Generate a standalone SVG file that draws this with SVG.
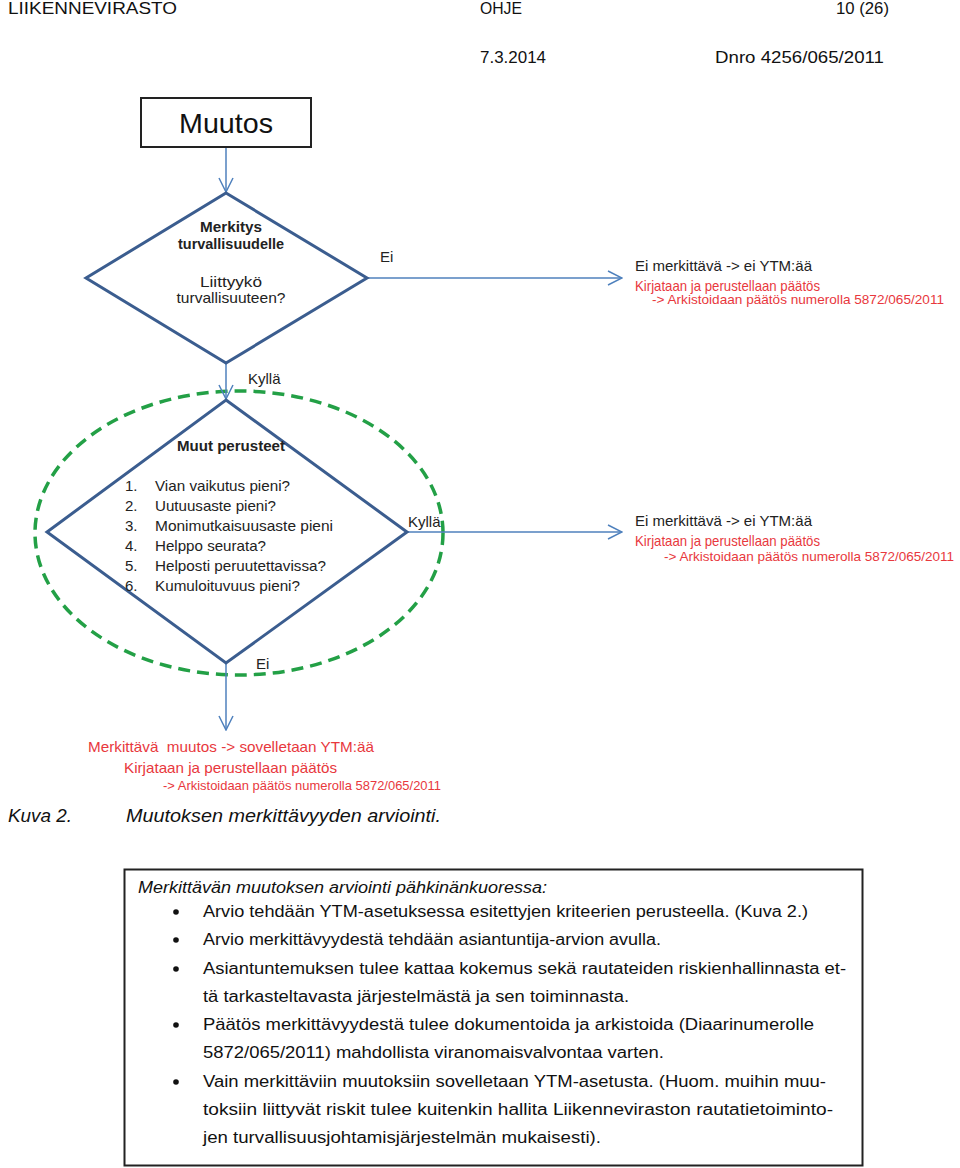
<svg xmlns="http://www.w3.org/2000/svg" width="960" height="1168" viewBox="0 0 960 1168">
<defs>
<marker id="arr" markerUnits="userSpaceOnUse" markerWidth="16" markerHeight="16" viewBox="0 0 16 16" refX="15" refY="8" orient="auto">
<path d="M1,1 L15,8 L1,15" fill="none" stroke="#4f81bd" stroke-width="1.5"/>
</marker>
<style>
.hdr{font-family:"Liberation Sans",Arial,sans-serif;font-size:17px;fill:#111}
.c{font-family:"Liberation Sans",Arial,sans-serif;font-size:15px;fill:#222}
.b{font-weight:bold}
.red{fill:#e8383d}
.sm{font-size:13px}
.body{font-family:"Liberation Sans",Arial,sans-serif;font-size:16px;fill:#111}
.cap{font-family:"Liberation Sans",Arial,sans-serif;font-size:18px;font-style:italic;fill:#111}
.conn{stroke:#4f81bd;stroke-width:1.5;fill:none}
.dia{stroke:#3b5d8f;stroke-width:3;fill:#fff;stroke-linejoin:miter}
</style>
</defs>
<rect width="960" height="1168" fill="#fff"/>
<g id="header">
<text class="hdr" x="8" y="14" textLength="169" lengthAdjust="spacingAndGlyphs">LIIKENNEVIRASTO</text>
<text class="hdr" x="480" y="14" textLength="42" lengthAdjust="spacingAndGlyphs">OHJE</text>
<text class="hdr" x="836" y="14" textLength="53" lengthAdjust="spacingAndGlyphs">10 (26)</text>
<text class="hdr" x="480" y="63" textLength="66" lengthAdjust="spacingAndGlyphs">7.3.2014</text>
<text class="hdr" x="715" y="63" textLength="169" lengthAdjust="spacingAndGlyphs">Dnro 4256/065/2011</text>
</g>
<g id="ellipse">
<ellipse cx="239" cy="533" rx="204" ry="142" fill="none" stroke="#23a046" stroke-width="3.5" stroke-dasharray="12,7"/>
</g>
<g id="connectors">
<line class="conn" x1="226" y1="147" x2="226" y2="192" marker-end="url(#arr)"/>
<line class="conn" x1="367" y1="278" x2="622" y2="278" marker-end="url(#arr)"/>
<line class="conn" x1="226" y1="363" x2="226" y2="399" marker-end="url(#arr)"/>
<line class="conn" x1="407" y1="532" x2="622" y2="532" marker-end="url(#arr)"/>
<line class="conn" x1="226" y1="663" x2="226" y2="730" marker-end="url(#arr)"/>
<text class="c" x="380" y="262" font-size="14">Ei</text>
<text class="c" x="248" y="384" font-size="14">Kyllä</text>
<text class="c" x="408" y="527" font-size="14">Kyllä</text>
<text class="c" x="256" y="669" font-size="14">Ei</text>
</g>
<g id="muutos">
<rect x="141" y="98" width="170" height="49" fill="#fff" stroke="#222" stroke-width="2"/>
<text x="226" y="133" text-anchor="middle" font-family="Liberation Sans,Arial,sans-serif" font-size="28" fill="#111" textLength="94" lengthAdjust="spacingAndGlyphs">Muutos</text>
</g>
<g id="diamond1">
<polygon class="dia" points="226,193 367,278 226,363 86,278"/>
<text class="c b" x="231" y="232" text-anchor="middle" textLength="62" lengthAdjust="spacingAndGlyphs">Merkitys</text>
<text class="c b" x="231" y="249" text-anchor="middle" textLength="106" lengthAdjust="spacingAndGlyphs">turvallisuudelle</text>
<text class="c" x="231" y="287" text-anchor="middle" textLength="62" lengthAdjust="spacingAndGlyphs">Liittyykö</text>
<text class="c" x="231" y="303" text-anchor="middle" textLength="109" lengthAdjust="spacingAndGlyphs">turvallisuuteen?</text>
</g>
<g id="out1">
<text class="c" x="635" y="271" textLength="177" lengthAdjust="spacingAndGlyphs">Ei merkittävä -&gt; ei YTM:ää</text>
<text class="c red" x="635" y="291" textLength="185" lengthAdjust="spacingAndGlyphs">Kirjataan ja perustellaan päätös</text>
<text class="c red sm" x="652" y="304" textLength="292" lengthAdjust="spacingAndGlyphs">-&gt; Arkistoidaan päätös numerolla 5872/065/2011</text>
</g>
<g id="diamond2">
<polygon class="dia" points="226,400 407,532 226,663 47,532"/>
<text class="c b" x="177" y="451" textLength="108" lengthAdjust="spacingAndGlyphs">Muut perusteet</text>
<g class="c">
<text x="125" y="491">1.</text><text x="155" y="491" textLength="135" lengthAdjust="spacingAndGlyphs">Vian vaikutus pieni?</text>
<text x="125" y="511">2.</text><text x="155" y="511" textLength="121" lengthAdjust="spacingAndGlyphs">Uutuusaste pieni?</text>
<text x="125" y="531">3.</text><text x="155" y="531" textLength="178" lengthAdjust="spacingAndGlyphs">Monimutkaisuusaste pieni</text>
<text x="125" y="551">4.</text><text x="155" y="551" textLength="111" lengthAdjust="spacingAndGlyphs">Helppo seurata?</text>
<text x="125" y="571">5.</text><text x="155" y="571" textLength="171" lengthAdjust="spacingAndGlyphs">Helposti peruutettavissa?</text>
<text x="125" y="591">6.</text><text x="155" y="591" textLength="145" lengthAdjust="spacingAndGlyphs">Kumuloituvuus pieni?</text>
</g>
</g>
<g id="out2">
<text class="c" x="635" y="526" textLength="177" lengthAdjust="spacingAndGlyphs">Ei merkittävä -&gt; ei YTM:ää</text>
<text class="c red" x="635" y="546" textLength="185" lengthAdjust="spacingAndGlyphs">Kirjataan ja perustellaan päätös</text>
<text class="c red sm" x="664" y="561" textLength="290" lengthAdjust="spacingAndGlyphs">-&gt; Arkistoidaan päätös numerolla 5872/065/2011</text>
</g>
<g id="out3">
<text class="c red" x="88" y="752" font-size="16" textLength="286" lengthAdjust="spacingAndGlyphs">Merkittävä&#160; muutos -&gt; sovelletaan YTM:ää</text>
<text class="c red" x="124" y="773" font-size="16" textLength="213" lengthAdjust="spacingAndGlyphs">Kirjataan ja perustellaan päätös</text>
<text class="c red sm" x="163" y="790" textLength="278" lengthAdjust="spacingAndGlyphs">-&gt; Arkistoidaan päätös numerolla 5872/065/2011</text>
</g>
<g id="caption">
<text class="cap" x="8" y="822" textLength="64" lengthAdjust="spacingAndGlyphs">Kuva 2.</text>
<text class="cap" x="126" y="822" textLength="315" lengthAdjust="spacingAndGlyphs">Muutoksen merkittävyyden arviointi.</text>
</g>
<g id="summary">
<rect x="124.5" y="869.5" width="738" height="296" fill="none" stroke="#222" stroke-width="2"/>
<text class="body" x="138" y="893" font-style="italic" textLength="409" lengthAdjust="spacingAndGlyphs">Merkittävän muutoksen arviointi pähkinänkuoressa:</text>
<g fill="#111">
<circle cx="176" cy="912" r="2.8"/>
<circle cx="176" cy="940" r="2.8"/>
<circle cx="176" cy="969" r="2.8"/>
<circle cx="176" cy="1025" r="2.8"/>
<circle cx="176" cy="1082" r="2.8"/>
</g>
<text class="body" x="203" y="917" textLength="605" lengthAdjust="spacingAndGlyphs">Arvio tehdään YTM-asetuksessa esitettyjen kriteerien perusteella. (Kuva 2.)</text>
<text class="body" x="203" y="945" textLength="458" lengthAdjust="spacingAndGlyphs">Arvio merkittävyydestä tehdään asiantuntija-arvion avulla.</text>
<text class="body" x="203" y="974" textLength="643" lengthAdjust="spacingAndGlyphs">Asiantuntemuksen tulee kattaa kokemus sekä rautateiden riskienhallinnasta et-</text>
<text class="body" x="203" y="1002" textLength="426" lengthAdjust="spacingAndGlyphs">tä tarkasteltavasta järjestelmästä ja sen toiminnasta.</text>
<text class="body" x="203" y="1030" textLength="611" lengthAdjust="spacingAndGlyphs">Päätös merkittävyydestä tulee dokumentoida ja arkistoida (Diaarinumerolle</text>
<text class="body" x="203" y="1058" textLength="461" lengthAdjust="spacingAndGlyphs">5872/065/2011) mahdollista viranomaisvalvontaa varten.</text>
<text class="body" x="203" y="1087" textLength="623" lengthAdjust="spacingAndGlyphs">Vain merkittäviin muutoksiin sovelletaan YTM-asetusta. (Huom. muihin muu-</text>
<text class="body" x="203" y="1115" textLength="630" lengthAdjust="spacingAndGlyphs">toksiin liittyvät riskit tulee kuitenkin hallita Liikenneviraston rautatietoiminto-</text>
<text class="body" x="203" y="1143" textLength="398" lengthAdjust="spacingAndGlyphs">jen turvallisuusjohtamisjärjestelmän mukaisesti).</text>
</g>
</svg>
